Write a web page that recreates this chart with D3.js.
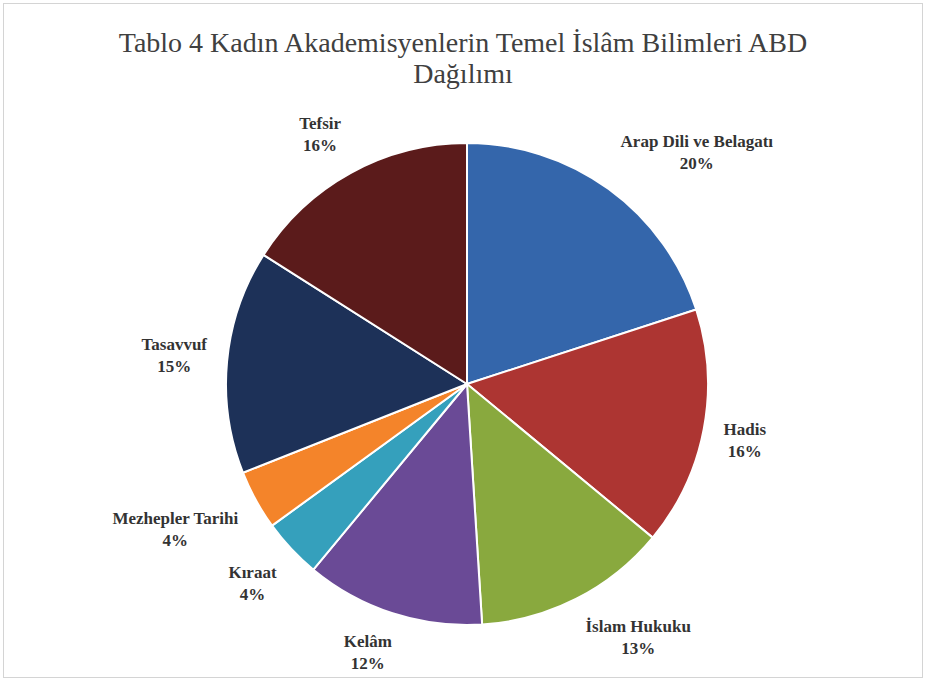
<!DOCTYPE html>
<html>
<head>
<meta charset="utf-8">
<script src="https://cdn.jsdelivr.net/npm/d3@7"></script>
<style>
  body { margin: 0; background: #fff; }
  svg { display: block; }
</style>
</head>
<body>
<script>
/* DATA */
const categories = ["Arap Dili ve Belagatı", "Hadis", "İslam Hukuku", "Kelâm", "Kıraat", "Mezhepler Tarihi", "Tasavvuf", "Tefsir"];
const values = [20, 16, 13, 12, 4, 4, 15, 16];
const colors = ["#3466ab", "#ad3532", "#89a93e", "#6a4a96", "#35a0bc", "#f4842a", "#1d3158", "#5b1b1b"];
const titleLines = ["Tablo 4 Kadın Akademisyenlerin Temel İslâm Bilimleri ABD", "Dağılımı"];

/* LAYOUT */
const WIDTH = 926, HEIGHT = 678;
const cx = 467, cy = 384, radius = 241;
const SERIF = "'Liberation Serif', 'Times New Roman', serif";

const svg = d3.select("body").append("svg")
    .attr("width", WIDTH)
    .attr("height", HEIGHT);

svg.append("rect")
    .attr("x", 3.5).attr("y", 3.5)
    .attr("width", WIDTH - 7).attr("height", HEIGHT - 4)
    .attr("fill", "#fff")
    .attr("stroke", "#d4d4d4");

svg.append("text")
    .attr("x", 463)
    .attr("y", 52)
    .attr("text-anchor", "middle")
    .style("font-family", SERIF)
    .style("font-size", "28px")
    .attr("fill", "#404040")
    .selectAll("tspan")
    .data(titleLines)
    .enter()
    .append("tspan")
    .attr("x", 463)
    .attr("dy", (d, i) => i ? 31 : 0)
    .text(d => d);

const pie = d3.pie().sort(null).value(d => d.value);
const arc = d3.arc().innerRadius(0).outerRadius(radius);

const slices = pie(categories.map((c, i) => ({ name: c, value: values[i], color: colors[i] })));

const g = svg.append("g").attr("transform", `translate(${cx},${cy})`);

g.selectAll("path")
    .data(slices)
    .enter()
    .append("path")
    .attr("d", arc)
    .attr("fill", d => d.data.color)
    .attr("stroke", "#fff")
    .attr("stroke-width", 2)
    .attr("stroke-linejoin", "round");

// outside-end labels: anchor just past the rim, box pushed outward
const total = d3.sum(values);
const labels = g.selectAll("g.label")
    .data(slices)
    .enter()
    .append("g")
    .attr("class", "label");

labels.append("text")
    .attr("text-anchor", "middle")
    .style("font-family", SERIF)
    .style("font-weight", "bold")
    .style("font-size", "17px")
    .attr("fill", "#333")
    .selectAll("tspan")
    .data(d => [d.data.name, Math.round(d.data.value / total * 100) + "%"])
    .enter()
    .append("tspan")
    .attr("x", 0)
    .attr("dy", (d, i) => i ? 22 : 0)
    .text(d => d);

const clamp = v => Math.max(-1, Math.min(1, v));
labels.each(function(d) {
    const t = d3.select(this).select("text");
    const b = t.node().getBBox();
    const a = (d.startAngle + d.endAngle) / 2;
    const s = Math.sin(a), c = Math.cos(a);
    const r = radius + 20;
    const x = s * r + clamp(2.5 * s) * b.width / 2;
    const y = -c * r - clamp(2 * c) * b.height / 2;
    t.attr("transform", `translate(${x},${y - (b.y + b.height / 2)})`);
});
</script>
</body>
</html>
